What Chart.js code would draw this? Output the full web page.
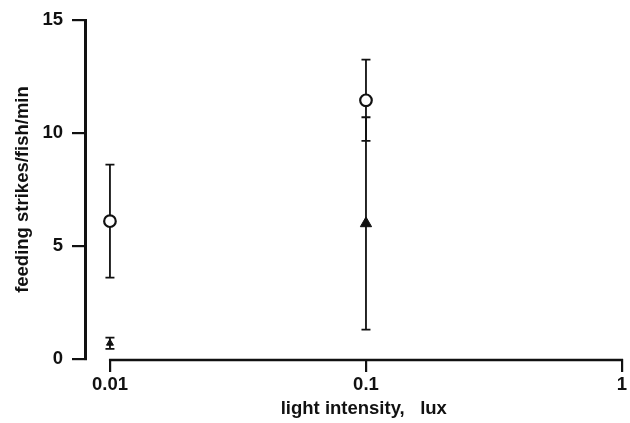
<!DOCTYPE html>
<html>
<head>
<meta charset="utf-8">
<script src="https://cdn.jsdelivr.net/npm/chart.js@4/dist/chart.umd.min.js"></script>
<style>
  html, body { margin: 0; padding: 0; background: #fff; }
  #wrap { width: 630px; height: 423px; }
</style>
</head>
<body>
<div id="wrap"><canvas id="strikeChart"></canvas></div>
<script>
// light intensity (lux) and feeding strike rates
var lux = [0.01, 0.1];
var circleMean = [6.1, 11.45];
var circleErr = [2.5, 1.8];
var triangleMean = [0.7, 6.0];
var triangleErr = [0.25, 4.7];
var xTicks = [0.01, 0.1, 1];
var yTicks = [0, 5, 10, 15];

var ink = '#111';
var font = { family: "'Liberation Sans', Arial, sans-serif", size: 18.5, weight: 'bold' };

function toPoints(xs, ys) {
    return xs.map(function (x, i) { return { x: x, y: ys[i] }; });
}

// vertical error bars with caps, drawn under the markers
var errorBars = {
    id: 'errorBars',
    beforeDatasetsDraw: function (chart) {
        var ctx = chart.ctx;
        var xs = chart.scales.x, ys = chart.scales.y;
        ctx.save();
        ctx.strokeStyle = ink;
        ctx.lineWidth = 1.8;
        chart.data.datasets.forEach(function (ds) {
            ds.data.forEach(function (p, i) {
                var px = xs.getPixelForValue(p.x);
                var top = ys.getPixelForValue(p.y + ds.errors[i]);
                var bot = ys.getPixelForValue(p.y - ds.errors[i]);
                ctx.beginPath();
                ctx.moveTo(px, top); ctx.lineTo(px, bot);
                ctx.moveTo(px - 4.5, top); ctx.lineTo(px + 4.5, top);
                ctx.moveTo(px - 4.5, bot); ctx.lineTo(px + 4.5, bot);
                ctx.stroke();
            });
        });
        ctx.restore();
    }
};

// x axis line only runs from the first to the last tick
var xAxisLine = {
    id: 'xAxisLine',
    afterDraw: function (chart) {
        var ctx = chart.ctx;
        var xs = chart.scales.x;
        var y = chart.chartArea.bottom + 1;
        ctx.save();
        ctx.strokeStyle = ink;
        ctx.lineWidth = 2.5;
        ctx.beginPath();
        ctx.moveTo(xs.getPixelForValue(xTicks[0]) - 1, y);
        ctx.lineTo(xs.getPixelForValue(xTicks[xTicks.length - 1]) + 1, y);
        ctx.stroke();
        ctx.restore();
    }
};

var ctxS = document.getElementById('strikeChart').getContext('2d');
var strikeChart = new Chart(ctxS, {
    type: 'scatter',
    data: {
        datasets: [
            {
                label: 'open circles',
                data: toPoints(lux, circleMean),
                errors: circleErr,
                pointStyle: 'circle',
                pointRadius: 5.8,
                pointBorderWidth: 2.2,
                pointBackgroundColor: '#fff',
                pointBorderColor: ink
            },
            {
                label: 'filled triangles',
                data: toPoints(lux, triangleMean),
                errors: triangleErr,
                pointStyle: 'triangle',
                pointRadius: [4, 6.5],
                pointBorderWidth: 1,
                pointBackgroundColor: ink,
                pointBorderColor: ink
            }
        ]
    },
    options: {
        responsive: true,
        maintainAspectRatio: false,
        animation: false,
        layout: { padding: { left: 0, right: 7, top: 15, bottom: 0 } },
        plugins: {
            legend: { display: false },
            tooltip: { enabled: false }
        },
        scales: {
            x: {
                type: 'logarithmic',
                min: 0.00799,
                max: 1,
                afterBuildTicks: function (scale) {
                    scale.ticks = xTicks.map(function (v) { return { value: v }; });
                },
                afterFit: function (scale) { scale.height = 64; },
                border: { display: false },
                grid: {
                    display: true,
                    drawOnChartArea: false,
                    drawTicks: true,
                    tickLength: 13,
                    lineWidth: 2.2,
                    color: ink,
                    tickWidth: 2.2,
                    tickColor: ink
                },
                ticks: {
                    autoSkip: false,
                    maxRotation: 0,
                    padding: 2,
                    color: ink,
                    font: font,
                    callback: function (v) { return String(v); }
                },
                title: {
                    display: true,
                    text: '    light intensity,   lux',
                    color: ink,
                    font: font,
                    padding: { top: 0, bottom: 3 }
                }
            },
            y: {
                min: 0,
                max: 15,
                afterBuildTicks: function (scale) {
                    scale.ticks = yTicks.map(function (v) { return { value: v }; });
                },
                afterFit: function (scale) { scale.width = 85; },
                border: { display: true, color: ink, width: 3 },
                grid: {
                    display: true,
                    drawOnChartArea: false,
                    drawTicks: true,
                    tickLength: 13,
                    lineWidth: 2.2,
                    color: ink,
                    tickWidth: 2.2,
                    tickColor: ink
                },
                ticks: {
                    padding: 9,
                    color: ink,
                    font: font
                },
                title: {
                    display: true,
                    text: 'feeding strikes/fish/min',
                    color: ink,
                    font: font,
                    padding: { top: 12, bottom: 0 }
                }
            }
        }
    },
    plugins: [errorBars, xAxisLine]
});
</script>
</body>
</html>
